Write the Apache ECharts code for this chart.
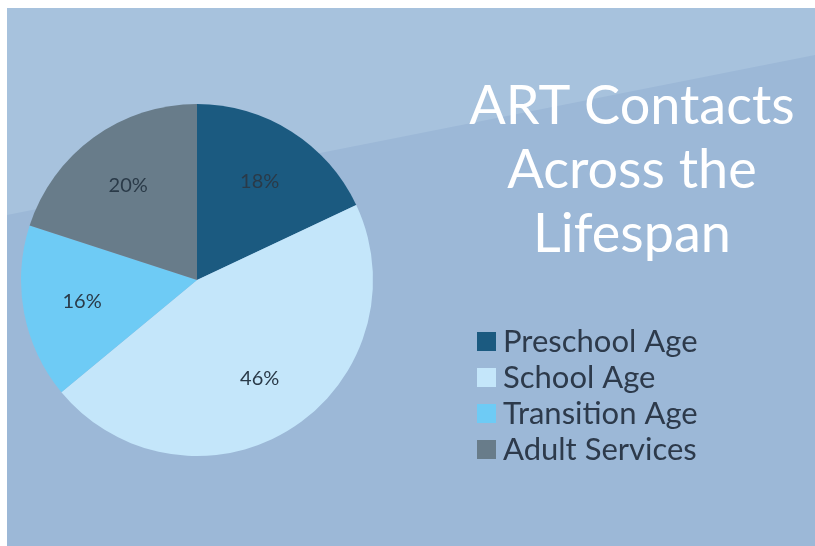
<!DOCTYPE html>
<html>
<head>
<meta charset="utf-8">
<script src="https://cdn.jsdelivr.net/npm/echarts@6/dist/echarts.min.js"></script>
<style>
  html, body { margin: 0; padding: 0; background: #fff; }
  #chart { width: 815px; height: 546px; }
</style>
</head>
<body>
<div id="chart"></div>
<script>
const categories = ['Preschool Age', 'School Age', 'Transition Age', 'Adult Services']
const shares = [18, 46, 16, 20]
const sliceColors = ['#1b5a80', '#c4e6fa', '#6ecbf5', '#687c8a']
const titleLines = ['ART Contacts', 'Across the', 'Lifespan']

const pieData = categories.map((name, i) => ({
  name: name,
  value: shares[i],
  itemStyle: { color: sliceColors[i] }
}))

const chart = echarts.init(document.getElementById('chart'))

chart.setOption({
  backgroundColor: '#ffffff',
  // slide background: two blue bands split by a diagonal
  graphic: [
    {
      type: 'rect',
      z: -10,
      shape: { x: 7, y: 8, width: 808, height: 538 },
      style: { fill: '#9cb8d7' }
    },
    {
      type: 'polygon',
      z: -9,
      shape: { points: [[7, 8], [815, 8], [815, 55], [7, 215]] },
      style: { fill: '#a7c2dd' }
    }
  ],
  title: {
    text: titleLines.join('\n'),
    left: 627,
    top: 70,
    textAlign: 'center',
    textStyle: {
      color: '#ffffff',
      fontFamily: 'Lato',
      fontWeight: 'normal',
      fontSize: 54,
      lineHeight: 64
    }
  },
  legend: {
    orient: 'vertical',
    left: 472,
    top: 321,
    icon: 'rect',
    itemWidth: 19,
    itemHeight: 19,
    itemGap: 5,
    selectedMode: false,
    data: categories,
    textStyle: {
      color: '#2d3a4b',
      fontFamily: 'Lato',
      fontSize: 31,
      lineHeight: 31,
      padding: [0, 0, 0, 2]
    }
  },
  series: [
    {
      type: 'pie',
      center: [197, 280],
      radius: [0, 176],
      startAngle: 90,
      clockwise: true,
      silent: true,
      label: { show: false },
      labelLine: { show: false },
      data: pieData
    },
    {
      // carries the percentage labels a bit further out than r/2
      type: 'pie',
      center: [197, 280],
      radius: [52, 176],
      startAngle: 90,
      clockwise: true,
      silent: true,
      itemStyle: { color: 'rgba(0,0,0,0)' },
      label: {
        show: true,
        position: 'inside',
        formatter: '{c}%',
        color: '#2a3a48',
        fontFamily: 'Lato',
        fontSize: 20
      },
      labelLine: { show: false },
      data: categories.map((name, i) => ({ name: name, value: shares[i] }))
    }
  ]
})
</script>
</body>
</html>
